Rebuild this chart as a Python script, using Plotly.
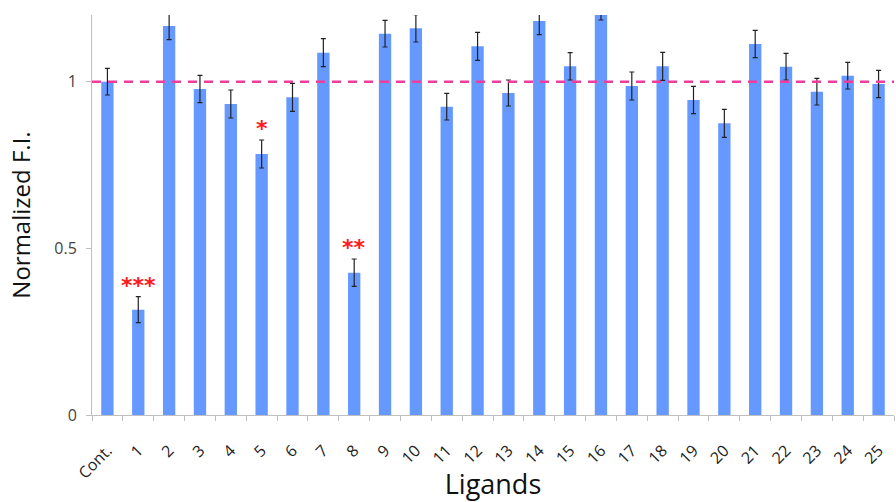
import plotly.graph_objects as go

# Normalized fluorescence intensity per ligand (mean ± error)
ligands = ["Cont.", "1", "2", "3", "4", "5", "6", "7", "8", "9", "10", "11", "12",
           "13", "14", "15", "16", "17", "18", "19", "20", "21", "22", "23", "24", "25"]
values = [1.00, 0.316, 1.167, 0.978, 0.933, 0.783, 0.953, 1.087, 0.427, 1.144, 1.160,
          0.925, 1.106, 0.966, 1.182, 1.046, 1.225, 0.987, 1.046, 0.945, 0.875, 1.113,
          1.045, 0.970, 1.018, 0.993]
errors = [0.040, 0.039, 0.041, 0.041, 0.042, 0.042, 0.042, 0.042, 0.041, 0.040, 0.041,
          0.040, 0.042, 0.039, 0.041, 0.041, 0.040, 0.042, 0.042, 0.041, 0.042, 0.041,
          0.040, 0.040, 0.040, 0.041]
# significance marks
sig_ligands = ["1", "5", "8"]
sig_labels = ["***", "*", "**"]
reference_level = 1.0

fig = go.Figure()
fig.add_trace(go.Bar(
    x=ligands, y=values,
    marker=dict(color="#6699ff", line=dict(width=0)),
    error_y=dict(type="data", array=errors, visible=True,
                 color="#222222", thickness=1.2, width=2.5),
))

fig.add_shape(type="line", xref="paper", yref="y", x0=0, x1=1,
              y0=reference_level, y1=reference_level,
              line=dict(color="#f03c9c", width=2.5, dash="9px,7px"))

for lig, lab in zip(sig_ligands, sig_labels):
    i = ligands.index(lig)
    fig.add_annotation(x=lig, y=values[i] + errors[i], text="<b>" + lab + "</b>",
                       showarrow=False, yanchor="bottom", yshift=-3,
                       font=dict(color="#ff1a1a", size=22, family="DejaVu Sans"))

fig.update_layout(
    width=896, height=502,
    margin=dict(l=92, r=2, t=15, b=87),
    paper_bgcolor="white", plot_bgcolor="white",
    bargap=0.6, showlegend=False,
    font=dict(family="Open Sans, sans-serif", color="#222222"),
)
fig.update_xaxes(
    showline=True, linecolor="#bfbfbf", linewidth=1,
    ticks="outside", tickson="boundaries", ticklen=5, tickcolor="#bfbfbf",
    tickangle=-45, tickfont=dict(size=16, color="#222222"), ticklabelstandoff=19,
    title=dict(text="Ligands", font=dict(size=27, color="#111111"), standoff=2),
    showgrid=False, automargin=False,
)
fig.update_yaxes(
    range=[0, 1.2], tickvals=[0, 0.5, 1], ticktext=["0", "0.5", "1"],
    showline=True, linecolor="#bfbfbf", linewidth=1,
    ticks="outside", ticklen=5, tickcolor="#bfbfbf",
    tickfont=dict(size=16, color="#444444"), ticklabelstandoff=6,
    title=dict(text="Normalized F.I.", font=dict(size=24, color="#111111"), standoff=16),
    showgrid=False, zeroline=False,
)

fig.write_html("out.html")
